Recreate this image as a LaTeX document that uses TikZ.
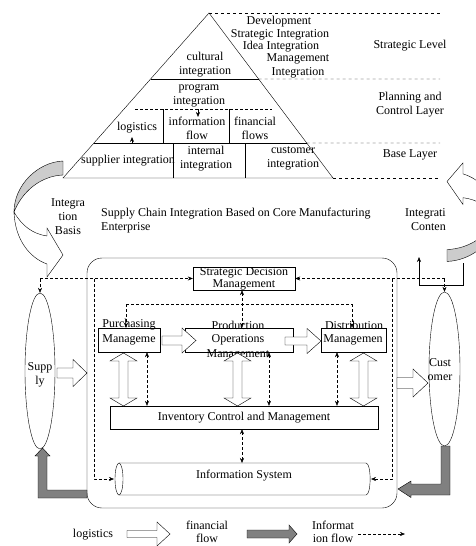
\documentclass[tikz,border=0pt]{standalone}
\usepackage{fontspec}
\setmainfont{Liberation Serif}
\usetikzlibrary{arrows.meta,shapes.geometric,calc}

\tikzset{
  every node/.style={font=\fontsize{12}{14}\selectfont, inner sep=0pt, align=center},
  box/.style={draw, minimum height=24},
  info/.style={densely dashed, -{Stealth[length=5pt,width=4pt]}},
  infoboth/.style={densely dashed, {Stealth[length=5pt,width=4pt]}-{Stealth[length=5pt,width=4pt]}},
  whitearrow/.style={draw, fill=white},
  grayarrow/.style={draw, fill=gray},
  twist/.pic={
    \draw[fill=gray!40] (0,-7) .. controls (-25,-6) and (-49,17) .. (-49,44)
      .. controls (-41,24) and (-23,8) .. (0,7) -- cycle;
    \draw[fill=white] (-49,44) .. controls (-41,58) and (-30,66) .. (-16,68) -- (-16,60)
      -- (0,87) -- (-16,109) -- (-16,96) .. controls (-33,90) and (-48,72) .. (-49,44) -- cycle;
  }
}

% horizontal block arrow: tail x, tip x, y, shaft half, head half, head length
\newcommand{\hblock}[6]{\path[whitearrow] (#1,{#3-#4}) -- ({#2-(#6)},{#3-#4}) -- ({#2-(#6)},{#3-#5})
  -- (#2,#3) -- ({#2-(#6)},{#3+#5}) -- ({#2-(#6)},{#3+#4}) -- (#1,{#3+#4}) -- cycle;}
% vertical double block arrow: x, top y, bottom y, shaft half, head half, head length
\newcommand{\vdblock}[6]{\path[whitearrow] (#1,#2) -- ({#1+#5},{#2+#6}) -- ({#1+#4},{#2+#6})
  -- ({#1+#4},{#3-#6}) -- ({#1+#5},{#3-#6}) -- (#1,#3) -- ({#1-#5},{#3-#6}) -- ({#1-#4},{#3-#6})
  -- ({#1-#4},{#2+#6}) -- ({#1-#5},{#2+#6}) -- cycle;}

\begin{document}
\begin{tikzpicture}[x=1pt,y=-1pt]
  \useasboundingbox (0,0) rectangle (475,546);

  % pyramid
  \coordinate (apex) at (209,13); \coordinate (bl) at (63,178); \coordinate (br) at (333,178);
  \draw (bl) -- (apex) -- (br) -- cycle;
  \draw ($(apex)!0.4!(bl)$) -- ($(apex)!0.4!(br)$);
  \draw ($(apex)!0.788!(bl)$) -- ($(apex)!0.788!(br)$);
  \draw[dashed] (apex) -- (440,13);
  \draw[dashed] ($(apex)!0.4!(br)$) -- (440,79);
  \draw[dashed] ($(apex)!0.788!(br)$) -- (440,143);
  \draw[dashed] (br) -- (440,178);
  \draw[densely dashed] (135,109) -- (272,109);
  \draw (163,109) -- (163,143); \draw (229,109) -- (229,143);
  \draw (173,143) -- (173,178); \draw (245,143) -- (245,178);
  \draw[-{Stealth[length=5pt,width=4pt]}] (198,109) -- (198,117);
  \draw[semithick,-{Stealth[length=5pt,width=4pt]}] (197,143) -- (132,143) -- (132,137);

  \node (dev) at (279,22) {Development};
  \node (stint) at (280,35) {Strategic Integration};
  \node (idea) at (281,47) {Idea Integration};
  \node (mgint) at (298,66) {Management\\Integration};
  \node (cult) at (205,65) {cultural\\integration};
  \node (prog) at (199,96) {program\\integration};
  \node (logi) at (137,128) {logistics};
  \node (infl) at (197,128.5) {information\\flow};
  \node (finf) at (255,128.5) {financial\\flows};
  \node (supint) at (128,161) {supplier integration};
  \node (intint) at (206,158.5) {internal\\integration};
  \node (cusint) at (293,158.5) {customer\\integration};
  \node (strlev) at (410,46) {Strategic Level};
  \node (planlev) at (410,105) {Planning and\\Control Layer};
  \node (baselev) at (410,155) {Base Layer};

  % curved arrows
  \pic at (63,168) {twist};
  \pic[rotate=180,yscale=0.85] at (447,255.5) {twist};
  \node (basis) at (68,217) {Integra\\tion\\Basis};
  \node[anchor=east,align=right] (content) at (446,220) {Integrati\\Conten};
  \node[anchor=west,align=left] (title) at (101,221) {Supply Chain Integration Based on Core Manufacturing\\Enterprise};
  \draw[-{Stealth[length=5pt,width=4pt]}] (463,263) -- (463,285) -- (419,285) -- (419,257);

  % enterprise
  \draw[rounded corners=15pt] (87,258) rectangle (397,508);
  \node[box, minimum width=102, minimum height=23] (sdm) at (244,278.5) {};
  \node[font=\fontsize{12}{12}\selectfont] at (sdm) {Strategic Decision\\Management};
  \node[box, minimum width=62] (purch) at (129,340) {};
  \node at (129,325) {Purchasing}; \node at (129,340) {Manageme};
  \node[box, minimum width=108] (prod) at (239,340) {};
  \node at (238,325) {Production}; \node at (238,340) {Operations}; \node at (238,355) {Management};
  \node[box, minimum width=65] (distr) at (353.5,340) {};
  \node at (354,325) {Distribution}; \node at (353,340) {Managemen};
  \node[box, minimum width=268, minimum height=23] (inv) at (244,417.5) {Inventory Control and Management};
  \node (infosys) at (244,476) {Information System};
  \draw (119,463) -- (366,463) .. controls (371.5,463) and (371.5,495) .. (366,495) -- (119,495);
  \draw[fill=white] (119,479) ellipse (4 and 16);
  \coordinate (isw) at (114,479); \coordinate (ise) at (371,479); \coordinate (istop) at (244,463);

  \node[draw, ellipse, minimum width=30, minimum height=156] (supply) at (40,371) {};
  \node at (40,375) {Supp\\ly};
  \node[draw, ellipse, minimum width=31, minimum height=154] (cust) at (444.5,369) {};
  \node at (440,370) {Cust\\omer};

  % information flow
  \coordinate (lc) at (40,278.5); \coordinate (rc) at (444.5,278.5);
  \coordinate (lbus) at (94,278.5); \coordinate (rbus) at (392,278.5);
  \draw[info] (lc) -- (sdm.west);
  \draw[info] (lc) -- (supply.north);
  \draw[info] (rc) -- (sdm.east);
  \draw[info] (rc) -- (cust.north);
  \draw[info] (lbus) -- (lbus |- isw) -- (isw);
  \draw[info] (rbus) -- (rbus |- ise) -- (ise);
  \draw[infoboth] ([xshift=-2]sdm.south) -- ([xshift=-2]sdm.south |- prod.north);
  \coordinate (tl) at (126,304); \coordinate (tr) at (352,304);
  \draw[densely dashed] (tl) -- (tr);
  \draw[info] (tl) -- (tl |- purch.north);
  \draw[info] (tr) -- (tr |- distr.north);
  \draw[infoboth] ([xshift=18]purch.south) -- ([xshift=18]purch.south |- inv.north);
  \draw[infoboth] ([xshift=30]prod.south) -- ([xshift=30]prod.south |- inv.north);
  \draw[infoboth] ([xshift=-16.5]distr.south) -- ([xshift=-16.5]distr.south |- inv.north);
  \draw[infoboth] ([xshift=-2]inv.south) -- ([xshift=-2]istop);

  % logistics
  \hblock{162}{196}{340.5}{4.5}{12.5}{14}
  \hblock{285}{321}{341}{4}{12.5}{14}
  \hblock{57}{87}{373}{5}{13.5}{14}
  \hblock{397}{428}{383}{5.5}{14}{15}
  \vdblock{123.5}{353}{406}{4.5}{13.5}{8}
  \vdblock{237.5}{353}{406}{4.5}{13.5}{8}
  \vdblock{363.5}{353}{406}{4.5}{13.5}{8}

  % financial flow
  \path[grayarrow] (87,490) -- (47,490) -- (47,456) -- (50,456) -- (42.5,448) -- (35,456)
    -- (38,456) -- (38,498) -- (87,498) -- cycle;
  \path[grayarrow] (441,446) -- (450,446) -- (450,495) -- (411,495) -- (411,497.5) -- (398,489)
    -- (411,481) -- (411,484) -- (441,484) -- cycle;

  % legend
  \node (leglog) at (93,535) {logistics};
  \hblock{127}{170}{534}{3.5}{12}{13}
  \node[font=\fontsize{12}{13}\selectfont] (legfin) at (207,532) {financial\\flow};
  \path[grayarrow] (247,530) -- (289,530) -- (289,525) -- (297,534) -- (289,543) -- (289,538)
    -- (247,538) -- cycle;
  \node[font=\fontsize{12}{13}\selectfont] (leginf) at (333,532) {Informat\\ion flow};
  \coordinate (legs) at (358,534); \coordinate (lege) at (405,534);
  \draw[info] (legs) -- (lege);
\end{tikzpicture}
\end{document}
